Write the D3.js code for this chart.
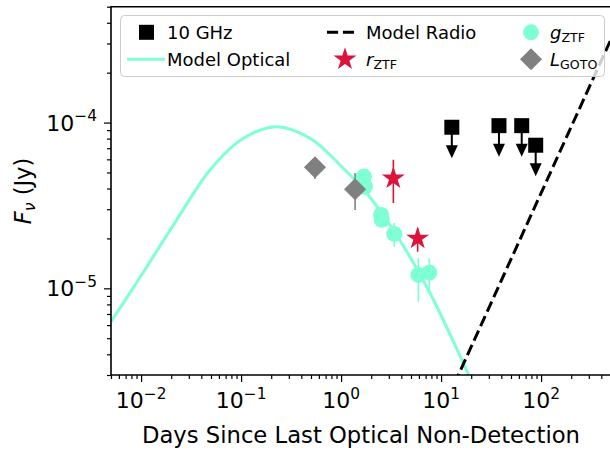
<html lang="en">
<head>
<meta charset="utf-8">
<title>Light curve</title>
<style>
    body {
        margin: 0;
        padding: 0;
        background-color: white;
    }
    svg {
        background-color: white;
        font-family: "DejaVu Sans", sans-serif;
    }
</style>
</head>
<body>
<div id="chart"></div>

<script src="https://d3js.org/d3.v7.min.js"></script>
<script type="text/javascript">

    // 10 GHz upper limits
    var radioDays = [12.8, 37.9, 64.0, 88.3];
    var radioFlux = [9.37e-5, 9.58e-5, 9.58e-5, 7.30e-5];

    // optical model
    var opticalDays = [0.00489, 0.01052, 0.0227, 0.0489, 0.1052, 0.227, 0.489, 1.052, 1.803, 3.33, 7.18, 10.52, 16.7, 24.5];
    var opticalFlux = [6.16e-6, 1.25e-5, 2.59e-5, 5.18e-5, 8.04e-5, 9.45e-5, 8.04e-5, 5.30e-5, 3.75e-5, 2.25e-5, 1.023e-5, 6.44e-6, 3.53e-6, 2.12e-6];

    // radio model
    var radioModelDays = [10, 500];
    var radioModelFlux = [1.77e-6, 3.18e-4];

    // r ZTF
    var rDays = [3.33, 5.83];
    var rFlux = [4.61e-5, 2.00e-5];
    var rLow = [3.27e-5, 1.66e-5];
    var rHigh = [5.96e-5, 2.31e-5];

    // g ZTF
    var gDays = [1.69, 1.73, 2.51, 2.55, 3.40, 5.92, 7.62];
    var gFlux = [4.72e-5, 4.10e-5, 2.77e-5, 2.59e-5, 2.13e-5, 1.205e-5, 1.245e-5];
    var gLow = [4.45e-5, 3.85e-5, 2.55e-5, 2.42e-5, 1.78e-5, 8.3e-6, 9.5e-6];
    var gHigh = [5.0e-5, 4.35e-5, 3.0e-5, 2.76e-5, 2.48e-5, 1.52e-5, 1.52e-5];

    // L GOTO
    var lDays = [0.548, 1.38];
    var lFlux = [5.37e-5, 3.96e-5];
    var lLow = [4.56e-5, 2.97e-5];
    var lHigh = [6.2e-5, 4.97e-5];

    var xMajor = [1e-2, 1e-1, 1, 10, 100];
    var xExp = ["\u22122", "\u22121", "0", "1", "2"];
    var yMajor = [1e-5, 1e-4];
    var yExp = ["\u22125", "\u22124"];

    var width = 610;
    var height = 452;

    var aqua = "#7fffd4";
    var crimson = "#dc143c";
    var grey = "#808080";

    var svg = d3.select("#chart")
        .append("svg")
        .attr("width", width)
        .attr("height", height);

    var x = d3.scaleLog().domain([0.005, 500]).range([111, 611]);
    var y = d3.scaleLog().domain([3e-6, 5e-4]).range([375, 6.7]);

    svg.append("clipPath")
        .attr("id", "clip")
        .append("rect")
        .attr("x", 111).attr("y", 6.7)
        .attr("width", 500).attr("height", 375 - 6.7);

    // minor ticks
    function minors(lo, hi) {
        var out = [];
        for (var e = -7; e <= 3; e++) {
            for (var k = 2; k <= 9; k++) {
                var v = k * Math.pow(10, e);
                if (v >= lo * 0.999 && v <= hi * 1.001) out.push(v);
            }
        }
        return out;
    }

    var xAxisG = svg.append("g").attr("transform", "translate(0,375)");
    xAxisG.call(d3.axisBottom(x).tickValues(minors(0.005, 500)).tickSize(4).tickFormat(""));
    xAxisG.append("g").call(d3.axisBottom(x).tickValues(xMajor).tickSize(7).tickFormat(""));
    xAxisG.selectAll(".domain").remove();
    xAxisG.selectAll("line").attr("stroke", "black").attr("stroke-width", 1.2);

    var yAxisG = svg.append("g").attr("transform", "translate(111,0)");
    yAxisG.call(d3.axisLeft(y).tickValues(minors(3e-6, 5e-4)).tickSize(4).tickFormat(""));
    yAxisG.append("g").call(d3.axisLeft(y).tickValues(yMajor).tickSize(7).tickFormat(""));
    yAxisG.selectAll(".domain").remove();
    yAxisG.selectAll("line").attr("stroke", "black").attr("stroke-width", 1.2);

    // tick labels
    xMajor.forEach(function(v, i) {
        var t = svg.append("text")
            .attr("x", x(v)).attr("y", 408)
            .attr("text-anchor", "middle")
            .style("font-size", "22px");
        t.append("tspan").text("10");
        t.append("tspan").attr("dy", -9.5).style("font-size", "15.4px").text(xExp[i]);
    });
    yMajor.forEach(function(v, i) {
        var t = svg.append("text")
            .attr("x", 97).attr("y", y(v) + 8)
            .attr("text-anchor", "end")
            .style("font-size", "22px");
        t.append("tspan").text("10");
        t.append("tspan").attr("dy", -9.5).style("font-size", "15.4px").text(yExp[i]);
    });

    svg.append("text")
        .attr("x", 361).attr("y", 443)
        .attr("text-anchor", "middle")
        .style("font-size", "22.7px")
        .text("Days Since Last Optical Non-Detection");

    var yl = svg.append("text")
        .attr("transform", "translate(31,191) rotate(-90)")
        .attr("text-anchor", "middle")
        .style("font-size", "22.5px");
    yl.append("tspan").style("font-style", "italic").text("F");
    yl.append("tspan").attr("dy", 4).style("font-style", "italic").style("font-size", "15.7px").text("\u03bd");
    yl.append("tspan").attr("dy", -4).text(" (Jy)");

    var plot = svg.append("g").attr("clip-path", "url(#clip)");

    var line = d3.line()
        .x(function(d) { return x(d[0]); })
        .y(function(d) { return y(d[1]); });

    // 10 GHz limits
    var radio = d3.zip(radioDays, radioFlux);
    var limG = plot.append("g");
    radio.forEach(function(d) {
        var px = x(d[0]), py = y(d[1]);
        limG.append("line")
            .attr("x1", px).attr("x2", px)
            .attr("y1", py).attr("y2", py + 20)
            .attr("stroke", "black").attr("stroke-width", 2);
        limG.append("path")
            .attr("d", "M" + (px - 6) + "," + (py + 18) + "L" + (px + 6) + "," + (py + 18) + "L" + px + "," + (py + 31) + "Z")
            .attr("fill", "black");
        limG.append("rect")
            .attr("x", px - 7.5).attr("y", py - 7.5)
            .attr("width", 15).attr("height", 15)
            .attr("fill", "black");
    });

    // models
    plot.append("path")
        .datum(d3.zip(opticalDays, opticalFlux))
        .attr("d", line.curve(d3.curveCatmullRom.alpha(0.5)))
        .attr("fill", "none")
        .attr("stroke", aqua)
        .attr("stroke-width", 3);

    plot.append("path")
        .datum(d3.zip(radioModelDays, radioModelFlux))
        .attr("d", line.curve(d3.curveLinear))
        .attr("fill", "none")
        .attr("stroke", "black")
        .attr("stroke-width", 3)
        .attr("stroke-dasharray", "11.1,4.8");

    function errorbars(days, low, high, color) {
        plot.append("g").selectAll("line")
            .data(d3.range(days.length))
            .enter().append("line")
            .attr("x1", function(i) { return x(days[i]); })
            .attr("x2", function(i) { return x(days[i]); })
            .attr("y1", function(i) { return y(low[i]); })
            .attr("y2", function(i) { return y(high[i]); })
            .attr("stroke", color)
            .attr("stroke-width", 1.6);
    }

    var star = d3.symbol().type(d3.symbolStar).size(162);
    var diamond = d3.symbol().type(d3.symbolSquare).size(243);

    errorbars(rDays, rLow, rHigh, crimson);
    plot.append("g").selectAll("path")
        .data(d3.zip(rDays, rFlux))
        .enter().append("path")
        .attr("d", star)
        .attr("transform", function(d) { return "translate(" + x(d[0]) + "," + y(d[1]) + ")"; })
        .attr("fill", crimson);

    errorbars(gDays, gLow, gHigh, aqua);
    plot.append("g").selectAll("circle")
        .data(d3.zip(gDays, gFlux))
        .enter().append("circle")
        .attr("cx", function(d) { return x(d[0]); })
        .attr("cy", function(d) { return y(d[1]); })
        .attr("r", 8)
        .attr("fill", aqua);

    errorbars(lDays, lLow, lHigh, grey);
    plot.append("g").selectAll("path")
        .data(d3.zip(lDays, lFlux))
        .enter().append("path")
        .attr("d", diamond)
        .attr("transform", function(d) { return "translate(" + x(d[0]) + "," + y(d[1]) + ") rotate(45)"; })
        .attr("fill", grey);

    // legend
    var leg = svg.append("g");
    leg.append("rect")
        .attr("x", 120.5).attr("y", 15.5)
        .attr("width", 484).attr("height", 61)
        .attr("rx", 4)
        .attr("fill", "white").attr("fill-opacity", 0.8)
        .attr("stroke", "#cccccc").attr("stroke-width", 1);

    var r1 = 32.3, r2 = 59.3;
    leg.append("rect").attr("x", 139).attr("y", r1 - 7.5).attr("width", 15).attr("height", 15).attr("fill", "black");
    leg.append("line").attr("x1", 127).attr("x2", 165).attr("y1", r2).attr("y2", r2)
        .attr("stroke", aqua).attr("stroke-width", 3);
    leg.append("line").attr("x1", 327).attr("x2", 358).attr("y1", r1).attr("y2", r1)
        .attr("stroke", "black").attr("stroke-width", 3).attr("stroke-dasharray", "11.1,4.8");
    leg.append("path").attr("d", star).attr("transform", "translate(345," + r2 + ")").attr("fill", crimson);
    leg.append("circle").attr("cx", 531).attr("cy", r1).attr("r", 8).attr("fill", aqua);
    leg.append("path").attr("d", diamond).attr("transform", "translate(531," + r2 + ") rotate(45)").attr("fill", grey);

    function legText(px, py, main, sub, italic) {
        var t = leg.append("text").attr("x", px).attr("y", py + 6.5).style("font-size", "18px");
        var m = t.append("tspan").text(main);
        if (italic) m.style("font-style", "italic");
        if (sub) t.append("tspan").attr("dy", 3).style("font-size", "12.6px").text(sub);
    }
    legText(167, r1, "10 GHz");
    legText(167, r2, "Model Optical");
    legText(366, r1, "Model Radio");
    legText(366, r2, "r", "ZTF", true);
    legText(550, r1, "g", "ZTF", true);
    legText(550, r2, "L", "GOTO", true);

    // spines
    svg.append("path")
        .attr("d", "M111,6.7L611,6.7L611,375L111,375Z")
        .attr("fill", "none")
        .attr("stroke", "black")
        .attr("stroke-width", 1.6);

</script>
</body>
</html>
